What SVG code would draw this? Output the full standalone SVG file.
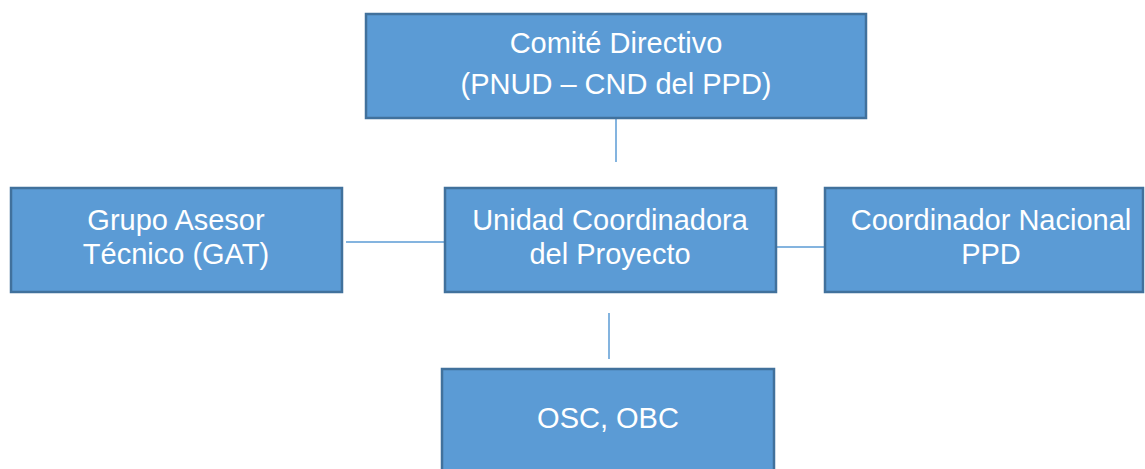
<svg xmlns="http://www.w3.org/2000/svg" width="1145" height="469" viewBox="0 0 1145 469">
<style>
.box{fill:#5B9BD5;stroke:#41719C;stroke-width:2.5}
.t{font-family:"Liberation Sans",Arial,sans-serif;font-size:29px;fill:#FFFFFF;text-anchor:middle}
.c{stroke:#5B9BD5;stroke-width:1.5;fill:none}
</style>
<rect width="1145" height="469" fill="#FFFFFF"/>
<g id="connectors">
<line class="c" x1="616" y1="119" x2="616" y2="162"/>
<line class="c" x1="346" y1="242" x2="445" y2="242"/>
<line class="c" x1="777" y1="247" x2="825" y2="247"/>
<line class="c" x1="609" y1="313" x2="609" y2="359"/>
</g>
<g id="comite">
<rect class="box" x="366" y="14" width="500" height="104"/>
<text class="t" x="616" y="53">Comité Directivo</text>
<text class="t" x="616" y="94">(PNUD – CND del PPD)</text>
</g>
<g id="gat">
<rect class="box" x="11" y="188" width="331" height="104"/>
<text class="t" x="176" y="230">Grupo Asesor</text>
<text class="t" x="176" y="264">Técnico (GAT)</text>
</g>
<g id="ucp">
<rect class="box" x="445" y="188" width="331" height="104"/>
<text class="t" x="610" y="230">Unidad Coordinadora</text>
<text class="t" x="610" y="264">del Proyecto</text>
</g>
<g id="cnppd">
<rect class="box" x="825" y="188" width="318" height="104"/>
<text class="t" x="991" y="230">Coordinador Nacional</text>
<text class="t" x="991" y="264">PPD</text>
</g>
<g id="osc">
<rect class="box" x="442" y="369" width="332" height="110"/>
<text class="t" x="608" y="428">OSC, OBC</text>
</g>
</svg>
